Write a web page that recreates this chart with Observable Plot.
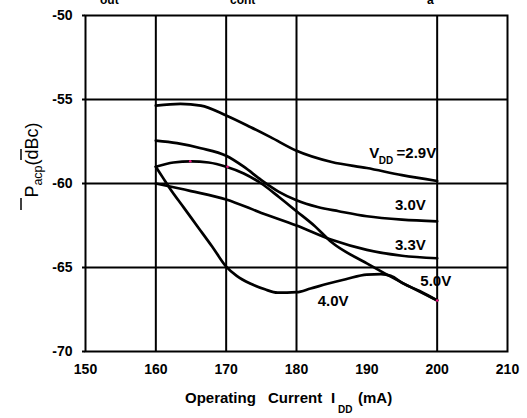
<!DOCTYPE html>
<html>
<head>
<meta charset="utf-8">
<script src="https://cdn.jsdelivr.net/npm/d3@7"></script>
<script src="https://cdn.jsdelivr.net/npm/@observablehq/plot@0.6"></script>
<style>
  html, body { margin: 0; padding: 0; background: white; }
  #chart { width: 527px; height: 418px; }
</style>
</head>
<body>
<div id="chart"></div>
<script>
// ---- data ----
const xTicks = [150, 160, 170, 180, 190, 200, 210];
const yTicks = [-70, -65, -60, -55, -50];
const xGrid = [160, 170, 180, 200];
const yGrid = [-65, -60, -55];

const current29 = [160, 163.5, 166.4, 170, 173.5, 176.3, 180, 185, 190, 195, 200];
const pacp29    = [-55.36, -55.26, -55.36, -55.95, -56.65, -57.24, -58.05, -58.72, -59.08, -59.5, -59.85];

const current30 = [160, 163, 166.4, 170, 172.5, 175, 177.5, 180, 183, 186, 190, 195, 200];
const pacp30    = [-57.45, -57.6, -57.9, -58.35, -59.0, -59.8, -60.5, -61.0, -61.4, -61.65, -61.95, -62.15, -62.25];

const current33 = [160, 165, 170, 175, 180, 185, 190, 195, 200];
const pacp33    = [-60.0, -60.45, -60.95, -61.75, -62.5, -63.35, -63.95, -64.3, -64.45];

const current40 = [160, 161, 162, 164, 166, 168, 170, 171.5, 173.5, 175.5, 177.3, 180, 182, 184.4, 187, 190, 192, 193.4, 195.2, 197.5, 200];
const pacp40    = [-59.0, -59.65, -60.3, -61.45, -62.6, -63.75, -64.95, -65.5, -65.97, -66.3, -66.5, -66.47, -66.25, -65.97, -65.7, -65.42, -65.4, -65.5, -65.96, -66.4, -66.96];

const current50 = [160, 162.5, 165, 167.5, 170, 172.5, 175, 177.5, 180, 182.5, 185, 190, 195, 200];
const pacp50    = [-59.0, -58.75, -58.68, -58.75, -59.0, -59.4, -60.0, -60.8, -61.65, -62.5, -63.5, -64.75, -65.9, -66.96];

const seriesNames = ["2.9V", "3.0V", "3.3V", "4.0V", "5.0V"];

const markerCurrent = [164.9, 170.2, 200];
const markerPacp    = [-58.68, -59.0, -66.96];

const labelText = ["3.0V", "3.3V", "5.0V", "4.0V"];
const labelCurrent = [196.2, 196.2, 199.8, 185.2];
const labelPacp    = [-61.3, -63.7, -65.8, -67.0];

const vddAnchorCurrent = [200];
const vddAnchorPacp = [-58.2];

// ---- build tables ----
const allX = [current29, current30, current33, current40, current50];
const allY = [pacp29, pacp30, pacp33, pacp40, pacp50];
const rows = [];
seriesNames.forEach((s, i) => allX[i].forEach((x, j) => rows.push({series: s, x, y: allY[i][j]})));
const markers = markerCurrent.map((x, i) => ({x, y: markerPacp[i]}));
const labels = labelText.map((t, i) => ({t, x: labelCurrent[i], y: labelPacp[i]}));
const vdd = vddAnchorCurrent.map((x, i) => ({x, y: vddAnchorPacp[i]}));

const fmt = d => String(d);
const FONT = "'Liberation Sans', Arial, Helvetica, sans-serif";

const chart = Plot.plot({
  width: 527,
  height: 418,
  marginLeft: 85,
  marginRight: 20,
  marginTop: 15,
  marginBottom: 67,
  x: {domain: [150, 210]},
  y: {domain: [-70, -50]},
  style: {fontFamily: FONT, fontSize: "14px", fontWeight: "bold", color: "black", background: "white"},
  marks: [
    Plot.ruleX(xGrid, {stroke: "black", strokeWidth: 2}),
    Plot.ruleY(yGrid, {stroke: "black", strokeWidth: 2}),
    Plot.frame({stroke: "black", strokeWidth: 2}),
    Plot.axisX({ticks: xTicks, tickSize: 0, tickPadding: 13, tickFormat: fmt, label: null, fontSize: 14, fontWeight: "bold"}),
    Plot.axisY({ticks: yTicks, tickSize: 3, tickPadding: 10, tickFormat: fmt, label: null, fontSize: 14, fontWeight: "bold", strokeWidth: 2}),
    Plot.line(rows, {x: "x", y: "y", z: "series", curve: "monotone-x", stroke: "black", strokeWidth: 2.7}),
    Plot.dot(markers, {x: "x", y: "y", r: 1.3, fill: "#e8117f", stroke: null}),
    Plot.text(labels, {x: "x", y: "y", text: "t", fontSize: 15, fontWeight: "bold", fill: "black"}),
    Plot.text(vdd, {x: "x", y: "y", text: () => "=2.9V", textAnchor: "end", dx: -1, fontSize: 15, fontWeight: "bold"}),
    Plot.text(vdd, {x: "x", y: "y", text: () => "DD", textAnchor: "end", dx: -44, dy: 8, fontSize: 10, fontWeight: "bold"}),
    Plot.text(vdd, {x: "x", y: "y", text: () => "V", textAnchor: "end", dx: -58, fontSize: 15, fontWeight: "bold"})
  ]
});

const svg = d3.select(chart);

// cropped title fragments at the very top (cut off in the reference too)
const frag = svg.append("g").attr("font-family", FONT).attr("font-weight", "bold").attr("font-size", 12).attr("text-anchor", "start");
[["out", 100], ["cont", 230], ["a", 427]].forEach(([t, x]) =>
  frag.append("text").attr("x", x).attr("y", 3.5).text(t));

// x axis title with subscript
const xt = svg.append("text").attr("font-family", FONT).attr("font-weight", "bold").attr("font-size", 15)
  .attr("text-anchor", "start").attr("y", 403);
xt.append("tspan").attr("x", 185).text("Operating");
xt.append("tspan").attr("x", 268).text("Current");
xt.append("tspan").attr("x", 331).text("I");
xt.append("tspan").attr("x", 338).attr("y", 413).attr("font-size", 10).text("DD");
xt.append("tspan").attr("x", 358).attr("y", 403).text("(mA)");

// y axis title with subscript
const yt = svg.append("text").attr("font-family", FONT).attr("font-weight", "normal").attr("font-size", 18)
  .attr("text-anchor", "middle").attr("transform", "translate(38,160) rotate(-90)");
yt.append("tspan").text("P");
yt.append("tspan").attr("font-size", 12.5).attr("dy", 4).text("acp");
yt.append("tspan").attr("dy", -4).text("(dBc)");

// stray overline bars beside the y title
svg.append("line").attr("x1", 21).attr("x2", 21).attr("y1", 198).attr("y2", 210).attr("stroke", "black").attr("stroke-width", 1.5);
svg.append("line").attr("x1", 21).attr("x2", 21).attr("y1", 149).attr("y2", 160).attr("stroke", "black").attr("stroke-width", 1.5);

document.getElementById("chart").appendChild(chart);
</script>
</body>
</html>
